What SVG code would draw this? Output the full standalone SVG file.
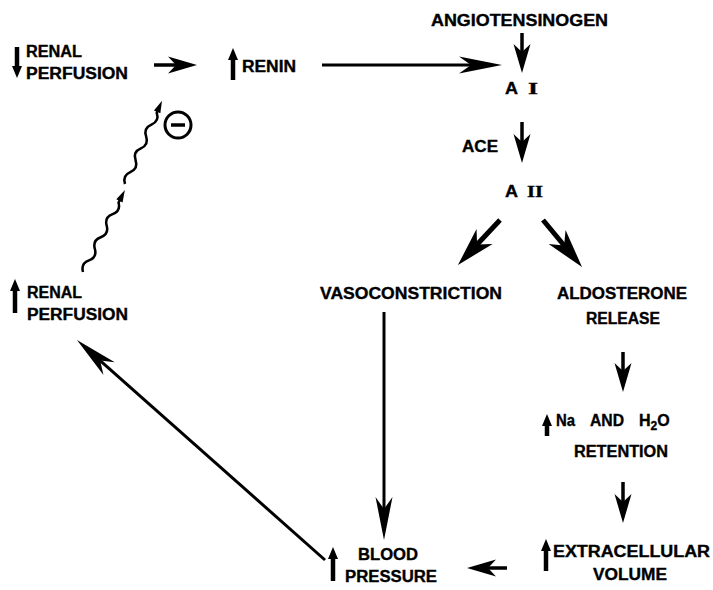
<svg xmlns="http://www.w3.org/2000/svg" width="713" height="590" viewBox="0 0 713 590">
<style>
text{font-family:"Liberation Sans",Arial,sans-serif;font-weight:bold;font-size:16px;fill:#000;stroke:#000;stroke-width:0.35px}
.serif{font-family:"Liberation Serif","Times New Roman",serif;font-weight:bold}
.ln{stroke:#000;fill:none;stroke-linecap:butt}
</style>
<defs>
<marker id="mLong" markerUnits="userSpaceOnUse" orient="auto" overflow="visible" refX="0" refY="0" markerWidth="1" markerHeight="1"><path d="M28,0 L-15,-8.5 L-3,0 L-15,8.5 Z" fill="#000"/></marker>
<marker id="mMed" markerUnits="userSpaceOnUse" orient="auto" overflow="visible" refX="0" refY="0" markerWidth="1" markerHeight="1"><path d="M20,0 L-9,-8.5 L-1,0 L-9,8.5 Z" fill="#000"/></marker>
<marker id="mBig" markerUnits="userSpaceOnUse" orient="auto" overflow="visible" refX="0" refY="0" markerWidth="1" markerHeight="1"><path d="M26,0 L-13,-11 L-2,0 L-13,11 Z" fill="#000"/></marker>
<marker id="mSmall" markerUnits="userSpaceOnUse" orient="auto" overflow="visible" refX="0" refY="0" markerWidth="1" markerHeight="1"><path d="M9,0 L-3,-5 L-3,5 Z" fill="#000"/></marker>
</defs>
<rect width="713" height="590" fill="#fff"/>

<g id="connectors">
<line class="ln" x1="154" y1="65" x2="177" y2="65" stroke-width="3.5" marker-end="url(#mMed)"/>
<line class="ln" x1="322" y1="65" x2="474" y2="65" stroke-width="3" marker-end="url(#mLong)"/>
<line class="ln" x1="522" y1="33" x2="522" y2="53" stroke-width="3.5" marker-end="url(#mMed)"/>
<line class="ln" x1="522" y1="122" x2="522" y2="143" stroke-width="3.5" marker-end="url(#mMed)"/>
<line class="ln" x1="500" y1="220" x2="475.7" y2="246" stroke-width="5" marker-end="url(#mBig)"/>
<line class="ln" x1="543" y1="220" x2="565.4" y2="247" stroke-width="5" marker-end="url(#mBig)"/>
<line class="ln" x1="384" y1="312" x2="384" y2="512" stroke-width="3" marker-end="url(#mLong)"/>
<line class="ln" x1="623" y1="352" x2="623" y2="372" stroke-width="3.5" marker-end="url(#mMed)"/>
<line class="ln" x1="623" y1="482" x2="623" y2="503" stroke-width="3.5" marker-end="url(#mMed)"/>
<line class="ln" x1="507" y1="568" x2="487" y2="568" stroke-width="3.5" marker-end="url(#mMed)"/>
<line class="ln" x1="325" y1="560" x2="97.9" y2="358.6" stroke-width="3" marker-end="url(#mLong)"/>
<g id="wave-low" transform="translate(83,272) rotate(-62.9)">
<path class="ln" stroke-width="2.5" d="M0,0 q6.5,-6 13,0 t13,0 t13,0 t13,0 t13,0 t13,0 l4,0"/>
<path d="M92,0 L80,-3.5 L80,3.5 Z" fill="#000"/>
</g>
<g id="wave-high" transform="translate(125,184) rotate(-66)">
<path class="ln" stroke-width="2.5" d="M0,0 q6.5,-6 13,0 t13,0 t13,0 t13,0 t13,0 t13,0 l3,0"/>
<path d="M91,0 L79,-3.5 L79,3.5 Z" fill="#000"/>
</g>
</g>

<g id="inhibit">
<circle cx="178" cy="125" r="13" fill="none" stroke="#000" stroke-width="3"/>
<line x1="171" y1="125" x2="185" y2="125" stroke="#000" stroke-width="3.5"/>
</g>

<g id="renal-perfusion-down">
<line class="ln" x1="17" y1="47" x2="17" y2="69" stroke-width="4.5" marker-end="url(#mSmall)"/>
<text x="26" y="57" textLength="56" lengthAdjust="spacingAndGlyphs">RENAL</text>
<text x="26" y="79" textLength="102" lengthAdjust="spacingAndGlyphs">PERFUSION</text>
</g>

<g id="renin">
<line class="ln" x1="233" y1="80" x2="233" y2="57" stroke-width="4.5" marker-end="url(#mSmall)"/>
<text x="242" y="72" textLength="54" lengthAdjust="spacingAndGlyphs">RENIN</text>
</g>

<g id="angiotensinogen">
<text x="431" y="26" textLength="177" lengthAdjust="spacingAndGlyphs">ANGIOTENSINOGEN</text>
</g>

<g id="a1">
<text x="505" y="94" textLength="13" lengthAdjust="spacingAndGlyphs">A</text>
<text class="serif" x="528" y="94" font-size="17" textLength="10" lengthAdjust="spacingAndGlyphs">I</text>
</g>

<g id="ace">
<text x="462" y="152" textLength="36" lengthAdjust="spacingAndGlyphs">ACE</text>
</g>

<g id="a2">
<text x="505" y="197" textLength="13" lengthAdjust="spacingAndGlyphs">A</text>
<text class="serif" x="527" y="197" font-size="17" textLength="16" lengthAdjust="spacingAndGlyphs">II</text>
</g>

<g id="vasoconstriction">
<text x="320" y="299" textLength="182" lengthAdjust="spacingAndGlyphs">VASOCONSTRICTION</text>
</g>

<g id="aldosterone">
<text x="557" y="299" textLength="130" lengthAdjust="spacingAndGlyphs">ALDOSTERONE</text>
<text x="586" y="324" textLength="74" lengthAdjust="spacingAndGlyphs">RELEASE</text>
</g>

<g id="retention">
<line class="ln" x1="547" y1="436" x2="547" y2="423" stroke-width="4.5" marker-end="url(#mSmall)"/>
<text x="556" y="426" textLength="19" lengthAdjust="spacingAndGlyphs">Na</text>
<text x="590" y="426" textLength="34" lengthAdjust="spacingAndGlyphs">AND</text>
<text x="639" y="426">H<tspan font-size="12" dy="4">2</tspan><tspan dy="-4">O</tspan></text>
<text x="574" y="457" textLength="94" lengthAdjust="spacingAndGlyphs">RETENTION</text>
</g>

<g id="extracellular">
<line class="ln" x1="546" y1="571" x2="546" y2="548" stroke-width="4.5" marker-end="url(#mSmall)"/>
<text x="553" y="557" textLength="157" lengthAdjust="spacingAndGlyphs">EXTRACELLULAR</text>
<text x="593" y="580" textLength="74" lengthAdjust="spacingAndGlyphs">VOLUME</text>
</g>

<g id="blood-pressure">
<line class="ln" x1="333" y1="581" x2="333" y2="556" stroke-width="4.5" marker-end="url(#mSmall)"/>
<text x="358" y="560" textLength="60" lengthAdjust="spacingAndGlyphs">BLOOD</text>
<text x="345" y="582" textLength="92" lengthAdjust="spacingAndGlyphs">PRESSURE</text>
</g>

<g id="renal-perfusion-up">
<line class="ln" x1="15" y1="313" x2="15" y2="288" stroke-width="4.5" marker-end="url(#mSmall)"/>
<text x="27" y="298" textLength="55" lengthAdjust="spacingAndGlyphs">RENAL</text>
<text x="27" y="320" textLength="101" lengthAdjust="spacingAndGlyphs">PERFUSION</text>
</g>
</svg>
